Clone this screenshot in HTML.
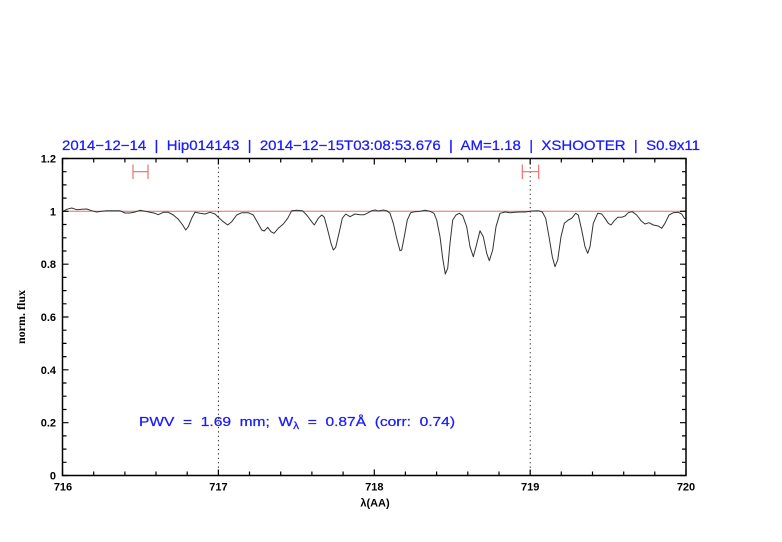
<!DOCTYPE html>
<html><head><meta charset="utf-8"><style>
html,body{margin:0;padding:0;background:#fff;}
svg{display:block;}
text{white-space:pre;}
</style></head><body>
<svg width="782" height="542" viewBox="0 0 782 542" xmlns="http://www.w3.org/2000/svg" xml:space="preserve">
<rect width="782" height="542" fill="#fff"/>
<!-- title -->
<text x="62" y="150" font-family="Liberation Sans, sans-serif" font-size="14" fill="#1a1aff" stroke="#1a1aff" stroke-width="0.25" textLength="638" lengthAdjust="spacingAndGlyphs">2014−12−14  |  Hip014143  |  2014−12−15T03:08:53.676  |  AM=1.18  |  XSHOOTER  |  S0.9x11</text>
<!-- reference line at 1 -->
<line x1="62.5" y1="211.3" x2="686" y2="211.3" stroke="#e07070" stroke-width="1"/>
<!-- dotted verticals -->
<line x1="218.4" y1="158.5" x2="218.4" y2="475.5" stroke="#000" stroke-width="0.9" stroke-dasharray="1.2,3.2"/>
<line x1="530.2" y1="158.5" x2="530.2" y2="475.5" stroke="#000" stroke-width="0.9" stroke-dasharray="1.2,3.2"/>
<!-- error bars -->
<g stroke="#f07070" stroke-width="1.2" fill="none">
<line x1="133" y1="171.7" x2="148" y2="171.7"/><line x1="133" y1="164.5" x2="133" y2="179"/><line x1="148" y1="164.5" x2="148" y2="179"/>
<line x1="522.3" y1="171.7" x2="538.7" y2="171.7"/><line x1="522.3" y1="164.5" x2="522.3" y2="179"/><line x1="538.7" y1="164.5" x2="538.7" y2="179"/>
</g>
<!-- spectrum -->
<polyline fill="none" stroke="#333" stroke-width="1" stroke-linejoin="round" points="
62.7,211.7 66.7,209.3 71.7,208 76.7,209.7 81.7,209.3 86.7,209 91.7,210.7 96.7,212 101.7,211.3 106.7,210.7 113.3,210.7 120,210.7 125,213 130,213 135,212 140,210.3 145,211.3 150,212.3 155,213.3 158.3,214.7 163.3,212.3 168.3,212.3 173.3,215 178.3,219.3 182.7,225 185.7,230 188.3,226.7 191.7,218.3 195,212.3 200,213.3 205,214 210,212.3 215,214 218.3,217.3
223.3,221.7 227.7,225 231.7,221.7 236.7,215 241.7,212.7 248.3,212.7 253.3,215 257.7,222.7 261.7,230 264.3,231 267.7,227.3 271,231.7 274,233.3 278.3,228.3 283.3,224 287.7,218.3 291.7,210.7 296.7,210.3 302.3,210.7 306.7,215 311.7,221.7 314.3,225 318.3,218.3 321.7,215 324.3,217.3 327.7,230 331,243.3 333.3,250 335.7,247.3 339,233.3 342.3,218.3 345.7,214 350,216.7 355,214 360,214.7 364.3,214.7 368.3,212.7 371.7,210.7 375,210
378.3,211 383.3,210 386.7,210.7 390,213.3 393.3,223.3 396.7,238.3 400,250.7 401.7,250 404.3,236.7 407.3,220 410.7,212.7 415,211.7 420,211.3 425,210.3 430,211.3 434,213.3 436.7,220 440,236.7 442.7,258.3 445.3,274 447.7,268.3 450,243.3 452.7,220 456,215 459.3,213.3 462.7,215.7 466.7,226.7 470,246.7 473.3,256.7 476,246.7 480,230.7 483.3,236.7 486.7,253.3 489.3,260.7 492.7,250 496,226.7 500,213.3 505,212 510,212.7 515,212.3 520,212 525,212
531.7,211 538.3,210.7 542.3,212 545.7,218.3 549,236.7 552.3,256.7 555,266.7 557.7,260 561,236.7 564.3,223.3 568.3,220 571.7,218.3 575.7,213.3 578.3,215 581.7,230 585,246.7 587.7,253.3 590,246.7 593.3,223.3 597.7,213.3 601.7,214 605,218.3 608.3,223.3 611,225 614.3,220.7 617.7,217.3 621.7,217.3 625,216 628.3,212.7 632.3,211.7 636.7,215 641,220.7 645,224 649,222.7 653.3,225 658.3,226 661.7,228.3 665,223.3 669,215 673.3,212.7 678.3,212.3 681.7,214 684.3,218.3 686,219"/>
<!-- frame -->
<rect x="62.5" y="158.5" width="623.5" height="317" fill="none" stroke="#000" stroke-width="1.5"/>
<!-- ticks -->
<g stroke="#000" stroke-width="1.2">
<path d="
M62.5,475.5v-6 M93.7,475.5v-4 M124.9,475.5v-4 M156.0,475.5v-4 M187.2,475.5v-4
M218.4,475.5v-6 M249.5,475.5v-4 M280.7,475.5v-4 M311.9,475.5v-4 M343.1,475.5v-4
M374.3,475.5v-6 M405.4,475.5v-4 M436.6,475.5v-4 M467.8,475.5v-4 M499.0,475.5v-4
M530.2,475.5v-6 M561.3,475.5v-4 M592.5,475.5v-4 M623.7,475.5v-4 M654.8,475.5v-4
M686,475.5v-6
M62.5,158.5v6 M93.7,158.5v4 M124.9,158.5v4 M156.0,158.5v4 M187.2,158.5v4
M218.4,158.5v6 M249.5,158.5v4 M280.7,158.5v4 M311.9,158.5v4 M343.1,158.5v4
M374.3,158.5v6 M405.4,158.5v4 M436.6,158.5v4 M467.8,158.5v4 M499.0,158.5v4
M530.2,158.5v6 M561.3,158.5v4 M592.5,158.5v4 M623.7,158.5v4 M654.8,158.5v4
M686,158.5v6
"/>
<path d="
M62.5,475.5h6 M62.5,462.3h4 M62.5,449.1h4 M62.5,435.9h4
M62.5,422.7h6 M62.5,409.5h4 M62.5,396.2h4 M62.5,383.0h4
M62.5,369.8h6 M62.5,356.6h4 M62.5,343.4h4 M62.5,330.2h4
M62.5,317.0h6 M62.5,303.8h4 M62.5,290.6h4 M62.5,277.4h4
M62.5,264.2h6 M62.5,251.0h4 M62.5,237.8h4 M62.5,224.5h4
M62.5,211.3h6 M62.5,198.1h4 M62.5,184.9h4 M62.5,171.7h4
M62.5,158.5h6
M686,475.5h-6 M686,462.3h-4 M686,449.1h-4 M686,435.9h-4
M686,422.7h-6 M686,409.5h-4 M686,396.2h-4 M686,383.0h-4
M686,369.8h-6 M686,356.6h-4 M686,343.4h-4 M686,330.2h-4
M686,317.0h-6 M686,303.8h-4 M686,290.6h-4 M686,277.4h-4
M686,264.2h-6 M686,251.0h-4 M686,237.8h-4 M686,224.5h-4
M686,211.3h-6 M686,198.1h-4 M686,184.9h-4 M686,171.7h-4
M686,158.5h-6
"/>
</g>
<!-- y tick labels -->
<g font-family="Liberation Sans, sans-serif" font-size="11" font-weight="bold" fill="#000" text-anchor="end">
<text x="56" y="162.5">1.2</text>
<text x="56" y="215.3">1</text>
<text x="56" y="268.2">0.8</text>
<text x="56" y="321">0.6</text>
<text x="56" y="373.8">0.4</text>
<text x="56" y="426.7">0.2</text>
<text x="56" y="479.5">0</text>
</g>
<!-- x tick labels -->
<g font-family="Liberation Sans, sans-serif" font-size="11" font-weight="bold" fill="#000" text-anchor="middle">
<text x="63" y="490.5">716</text>
<text x="218.4" y="490.5">717</text>
<text x="374.3" y="490.5">718</text>
<text x="530.2" y="490.5">719</text>
<text x="686" y="490.5">720</text>
</g>
<text x="375" y="506.5" font-family="Liberation Sans, sans-serif" font-size="11" font-weight="bold" text-anchor="middle" fill="#000">λ(AA)</text>
<text transform="translate(25,317) rotate(-90)" font-family="Liberation Serif, serif" font-size="12" font-weight="bold" text-anchor="middle" fill="#000">norm. flux</text>
<!-- PWV annotation -->
<text x="139" y="426" font-family="Liberation Sans, sans-serif" font-size="13" fill="#1a1aff" stroke="#1a1aff" stroke-width="0.25" textLength="316" lengthAdjust="spacingAndGlyphs">PWV  =  1.69  mm;  W<tspan font-size="10" dy="3">λ</tspan><tspan dy="-3">  =  0.87Å  (corr:  0.74)</tspan></text>
</svg>
</body></html>
